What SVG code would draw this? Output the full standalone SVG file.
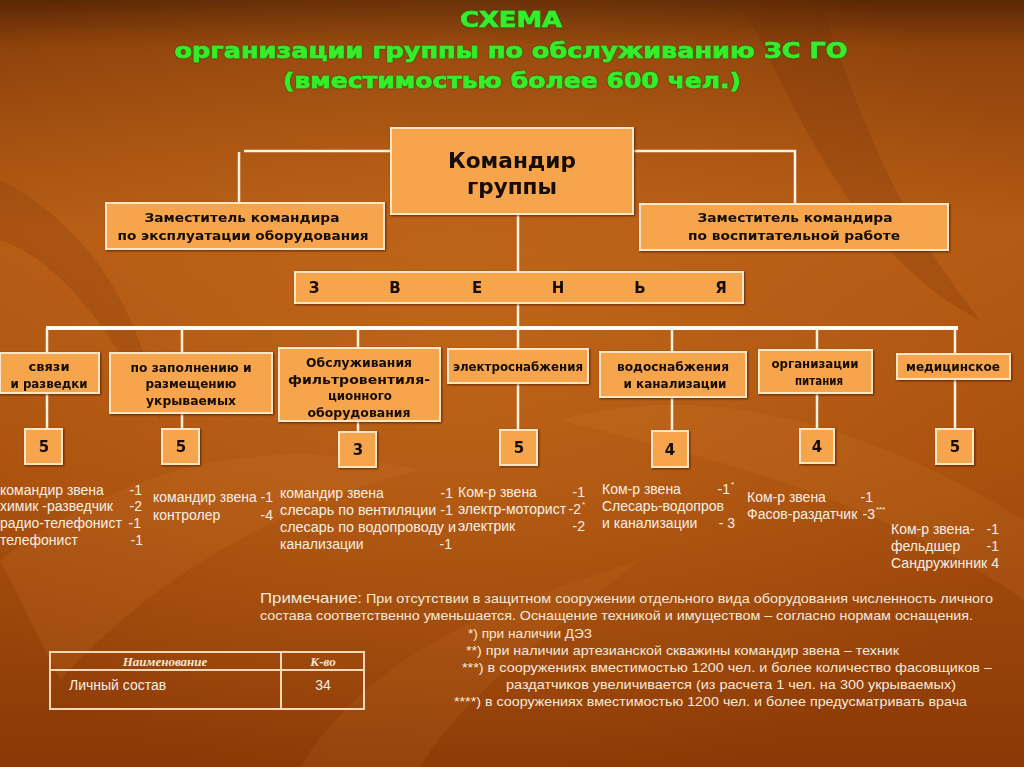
<svg xmlns="http://www.w3.org/2000/svg" width="1024" height="767" viewBox="0 0 1024 767">
<defs>
<linearGradient id="bg" x1="0" y1="0" x2="0" y2="1">
<stop offset="0" stop-color="#5a2805"/>
<stop offset="0.06" stop-color="#8e420b"/>
<stop offset="0.3" stop-color="#b45a14"/>
<stop offset="0.6" stop-color="#a9500e"/>
<stop offset="1" stop-color="#8a3906"/>
</linearGradient>
<radialGradient id="glow" cx="0.45" cy="0.45" r="0.6">
<stop offset="0" stop-color="#c9701f" stop-opacity="0.55"/>
<stop offset="1" stop-color="#c9701f" stop-opacity="0"/>
</radialGradient>
<filter id="sh" x="-10%" y="-10%" width="130%" height="140%">
<feDropShadow dx="1" dy="1" stdDeviation="0.8" flood-color="#3a1500" flood-opacity="0.7"/>
</filter>
<filter id="gsh" x="-5%" y="-20%" width="110%" height="150%">
<feDropShadow dx="0" dy="0" stdDeviation="1.2" flood-color="#0d5a0d" flood-opacity="0.9"/>
</filter>
</defs>
<style>
.box{fill:#f6a54d;stroke:#fde6c4;stroke-width:2}
.num{fill:#f6a54d;stroke:#fde6c4;stroke-width:2}
.bt{font-family:"DejaVu Sans",Verdana,sans-serif;font-weight:bold;fill:#140c04;text-anchor:middle}
.nt{font-family:"DejaVu Sans",Verdana,sans-serif;font-weight:bold;font-size:15px;fill:#140c04;text-anchor:middle}
.ln{stroke:#fff3e2;stroke-width:2.5;fill:none}
.lt{font-family:"Liberation Sans",Arial,sans-serif;font-size:14px;fill:#f8efe4}
.note{font-family:"Liberation Sans",Arial,sans-serif;font-size:13px;fill:#f6e9da}
.title{font-family:"DejaVu Sans",Verdana,sans-serif;font-weight:bold;font-size:22px;fill:#34ee2a;stroke:#34ee2a;stroke-width:0.7;text-anchor:middle}
.tb{stroke:#f8d8b4;stroke-width:2;fill:none}
</style>
<rect width="1024" height="767" fill="url(#bg)"/>
<rect width="1024" height="767" fill="url(#glow)"/>
<path d="M0 560 C120 470 260 430 420 470 C300 500 170 560 60 680 Z" fill="#d07a30" opacity="0.18"/>
<path d="M560 420 C700 380 860 420 1024 520 L1024 600 C880 500 720 460 560 420 Z" fill="#d48034" opacity="0.16"/>
<path d="M740 0 C800 120 860 260 980 320 C900 220 860 120 820 0 Z" fill="#6e2c04" opacity="0.2"/>
<path d="M0 180 C80 220 140 300 160 420 C110 330 60 260 0 240 Z" fill="#6e2c04" opacity="0.18"/>
<path d="M300 767 C380 640 520 600 640 560 C540 640 460 700 420 767 Z" fill="#d07a30" opacity="0.14"/>

<g id="title" filter="url(#gsh)">
<text class="title" x="511" y="27" textLength="102" lengthAdjust="spacingAndGlyphs">СХЕМА</text>
<text class="title" x="511" y="58" textLength="673" lengthAdjust="spacingAndGlyphs">организации группы по обслуживанию ЗС ГО</text>
<text class="title" x="512" y="88" textLength="458" lengthAdjust="spacingAndGlyphs">(вместимостью более 600 чел.)</text>
</g>

<g id="connectors">
<polyline class="ln" points="391,151 244,151"/>
<line class="ln" x1="239" y1="152" x2="239" y2="203"/>
<polyline class="ln" points="633,151 795,151 795,204"/>
<line class="ln" x1="518" y1="214" x2="518" y2="328"/>
<line x1="46" y1="328" x2="958" y2="328" stroke="#fffaf2" stroke-width="4"/>
<line class="ln" x1="47" y1="328" x2="47" y2="429"/>
<line class="ln" x1="182" y1="328" x2="182" y2="429"/>
<line class="ln" x1="358" y1="328" x2="358" y2="432"/>
<line class="ln" x1="518" y1="328" x2="518" y2="430"/>
<line class="ln" x1="672" y1="328" x2="672" y2="431"/>
<line class="ln" x1="817" y1="328" x2="817" y2="429"/>
<line class="ln" x1="955" y1="328" x2="955" y2="429"/>
</g>

<g id="commander" filter="url(#sh)">
<rect class="box" x="391" y="128" width="242" height="86"/>
<text class="bt" x="512" y="168" font-size="21" textLength="128" lengthAdjust="spacingAndGlyphs">Командир</text>
<text class="bt" x="512" y="194" font-size="21" textLength="90" lengthAdjust="spacingAndGlyphs">группы</text>
</g>
<g id="deputy-left" filter="url(#sh)">
<rect class="box" x="106" y="203" width="278" height="46"/>
<text class="bt" x="242" y="222" font-size="12" textLength="195" lengthAdjust="spacingAndGlyphs">Заместитель командира</text>
<text class="bt" x="243" y="240" font-size="12" textLength="251" lengthAdjust="spacingAndGlyphs">по эксплуатации оборудования</text>
</g>
<g id="deputy-right" filter="url(#sh)">
<rect class="box" x="640" y="204" width="308" height="46"/>
<text class="bt" x="795" y="222" font-size="12" textLength="195" lengthAdjust="spacingAndGlyphs">Заместитель командира</text>
<text class="bt" x="794" y="240" font-size="12" textLength="212" lengthAdjust="spacingAndGlyphs">по воспитательной работе</text>
</g>
<g id="zvenya" filter="url(#sh)">
<rect class="box" x="295" y="272" width="448" height="31"/>
<text class="bt" font-size="15" y="293" x="314">З</text>
<text class="bt" font-size="15" y="293" x="395">В</text>
<text class="bt" font-size="15" y="293" x="477">Е</text>
<text class="bt" font-size="15" y="293" x="558">Н</text>
<text class="bt" font-size="15" y="293" x="640">Ь</text>
<text class="bt" font-size="15" y="293" x="721">Я</text>
</g>

<g id="unit-svyazi" filter="url(#sh)">
<rect class="box" x="0" y="353" width="99" height="40"/>
<text class="bt" font-size="12" x="49" y="371" textLength="41" lengthAdjust="spacingAndGlyphs">связи</text>
<text class="bt" font-size="12" x="49" y="388" textLength="77" lengthAdjust="spacingAndGlyphs">и разведки</text>
<rect class="num" x="25" y="429" width="37" height="35"/>
<text class="nt" x="44" y="452">5</text>
</g>
<g id="unit-zapolnenie" filter="url(#sh)">
<rect class="box" x="110" y="353" width="162" height="60"/>
<text class="bt" font-size="12" x="191" y="372" textLength="121" lengthAdjust="spacingAndGlyphs">по заполнению и</text>
<text class="bt" font-size="12" x="191" y="388" textLength="91" lengthAdjust="spacingAndGlyphs">размещению</text>
<text class="bt" font-size="12" x="191" y="405" textLength="90" lengthAdjust="spacingAndGlyphs">укрываемых</text>
<rect class="num" x="162" y="429" width="37" height="35"/>
<text class="nt" x="181" y="452">5</text>
</g>
<g id="unit-filtr" filter="url(#sh)">
<rect class="box" x="279" y="348" width="161" height="73"/>
<text class="bt" font-size="12" x="359" y="367" textLength="106" lengthAdjust="spacingAndGlyphs">Обслуживания</text>
<text class="bt" font-size="12" x="359" y="384" textLength="142" lengthAdjust="spacingAndGlyphs">фильтровентиля-</text>
<text class="bt" font-size="12" x="360" y="400" textLength="64" lengthAdjust="spacingAndGlyphs">ционного</text>
<text class="bt" font-size="12" x="359" y="417" textLength="103" lengthAdjust="spacingAndGlyphs">оборудования</text>
<rect class="num" x="339" y="432" width="37" height="35"/>
<text class="nt" x="358" y="455">3</text>
</g>
<g id="unit-elektro" filter="url(#sh)">
<rect class="box" x="448" y="349" width="140" height="34"/>
<text class="bt" font-size="12" x="518" y="371" textLength="130" lengthAdjust="spacingAndGlyphs">электроснабжения</text>
<rect class="num" x="500" y="430" width="37" height="35"/>
<text class="nt" x="519" y="453">5</text>
</g>
<g id="unit-vodo" filter="url(#sh)">
<rect class="box" x="600" y="352" width="146" height="45"/>
<text class="bt" font-size="12" x="673" y="371" textLength="112" lengthAdjust="spacingAndGlyphs">водоснабжения</text>
<text class="bt" font-size="12" x="675" y="388" textLength="103" lengthAdjust="spacingAndGlyphs">и канализации</text>
<rect class="num" x="652" y="431" width="36" height="36"/>
<text class="nt" x="670" y="455">4</text>
</g>
<g id="unit-pitanie" filter="url(#sh)">
<rect class="box" x="759" y="350" width="113" height="43"/>
<text class="bt" font-size="12" x="815" y="368" textLength="87" lengthAdjust="spacingAndGlyphs">организации</text>
<text class="bt" font-size="12" x="819" y="385" textLength="48" lengthAdjust="spacingAndGlyphs">питания</text>
<rect class="num" x="800" y="429" width="34" height="34"/>
<text class="nt" x="817" y="452">4</text>
</g>
<g id="unit-med" filter="url(#sh)">
<rect class="box" x="897" y="354" width="113" height="25"/>
<text class="bt" font-size="12" x="953" y="371" textLength="94" lengthAdjust="spacingAndGlyphs">медицинское</text>
<rect class="num" x="936" y="429" width="37" height="35"/>
<text class="nt" x="955" y="452">5</text>
</g>

<g id="list-svyazi" class="lt">
<text x="0" y="495">командир звена</text><text x="142" y="495" text-anchor="end">-1</text>
<text x="0" y="511">химик -разведчик</text><text x="142" y="511" text-anchor="end">-2</text>
<text x="0" y="528">радио-телефонист</text><text x="141" y="528" text-anchor="end">-1</text>
<text x="0" y="545">телефонист</text><text x="143" y="545" text-anchor="end">-1</text>
</g>
<g id="list-zapolnenie" class="lt">
<text x="153" y="502" textLength="120" lengthAdjust="spacingAndGlyphs">командир звена -1</text>
<text x="153" y="520">контролер</text><text x="273" y="520" text-anchor="end">-4</text>
</g>
<g id="list-filtr" class="lt">
<text x="280" y="498">командир звена</text><text x="453" y="498" text-anchor="end">-1</text>
<text x="280" y="515" textLength="173" lengthAdjust="spacingAndGlyphs">слесарь по вентиляции -1</text>
<text x="280" y="532" textLength="176" lengthAdjust="spacingAndGlyphs">слесарь по водопроводу и</text>
<text x="280" y="549">канализации</text><text x="452" y="549" text-anchor="end">-1</text>
</g>
<g id="list-elektro" class="lt">
<text x="458" y="497">Ком-р звена</text><text x="585" y="497" text-anchor="end">-1</text>
<text x="458" y="514">электр-моторист</text><text x="581" y="514" text-anchor="end">-2</text><text x="582" y="507" font-size="8">*</text>
<text x="458" y="531">электрик</text><text x="585" y="531" text-anchor="end">-2</text>
</g>
<g id="list-vodo" class="lt">
<text x="602" y="494">Ком-р звена</text><text x="730" y="494" text-anchor="end">-1</text><text x="731" y="487" font-size="8">*</text>
<text x="602" y="511">Слесарь-водопров</text>
<text x="602" y="528">и канализации</text><text x="735" y="528" text-anchor="end">- 3</text>
</g>
<g id="list-pitanie" class="lt">
<text x="747" y="502">Ком-р звена</text><text x="873" y="502" text-anchor="end">-1</text>
<text x="747" y="519">Фасов-раздатчик</text><text x="875" y="519" text-anchor="end">-3</text><text x="876" y="512" font-size="8">***</text>
</g>
<g id="list-med" class="lt">
<text x="891" y="534">Ком-р звена-</text><text x="999" y="534" text-anchor="end">-1</text>
<text x="891" y="551">фельдшер</text><text x="999" y="551" text-anchor="end">-1</text>
<text x="891" y="568" textLength="108" lengthAdjust="spacingAndGlyphs">Сандружинник 4</text>
</g>

<g id="note" class="note">
<text x="260" y="603" font-size="15" textLength="102" lengthAdjust="spacingAndGlyphs">Примечание:</text>
<text x="366" y="603" textLength="627" lengthAdjust="spacingAndGlyphs">При отсутствии в защитном сооружении отдельного вида оборудования численность личного</text>
<text x="260" y="620" textLength="713" lengthAdjust="spacingAndGlyphs">состава соответственно уменьшается. Оснащение техникой и имуществом – согласно нормам оснащения.</text>
<text x="468" y="638" textLength="124" lengthAdjust="spacingAndGlyphs">*) при наличии ДЭЗ</text>
<text x="466" y="655" textLength="433" lengthAdjust="spacingAndGlyphs">**) при наличии артезианской скважины командир звена – техник</text>
<text x="462" y="672" textLength="530" lengthAdjust="spacingAndGlyphs">***) в сооружениях вместимостью 1200 чел. и более количество фасовщиков –</text>
<text x="506" y="689" textLength="450" lengthAdjust="spacingAndGlyphs">раздатчиков увеличивается (из расчета 1 чел. на 300 укрываемых)</text>
<text x="454" y="706" textLength="513" lengthAdjust="spacingAndGlyphs">****) в сооружениях вместимостью 1200 чел. и более предусматривать врача</text>
</g>

<g id="table">
<rect class="tb" x="50" y="652" width="314" height="57"/>
<line class="tb" x1="50" y1="670" x2="364" y2="670"/>
<line class="tb" x1="281" y1="652" x2="281" y2="709"/>
<text x="165" y="666" text-anchor="middle" font-family="'Liberation Serif','Times New Roman',serif" font-style="italic" font-weight="bold" font-size="13" fill="#f6e6d4">Наименование</text>
<text x="323" y="666" text-anchor="middle" font-family="'Liberation Serif','Times New Roman',serif" font-style="italic" font-weight="bold" font-size="13" fill="#f6e6d4">К-во</text>
<text x="69" y="690" font-family="'Liberation Sans',Arial,sans-serif" font-size="14" fill="#f8efe4">Личный состав</text>
<text x="323" y="690" text-anchor="middle" font-family="'Liberation Sans',Arial,sans-serif" font-size="14" fill="#f8efe4">34</text>
</g>
</svg>
